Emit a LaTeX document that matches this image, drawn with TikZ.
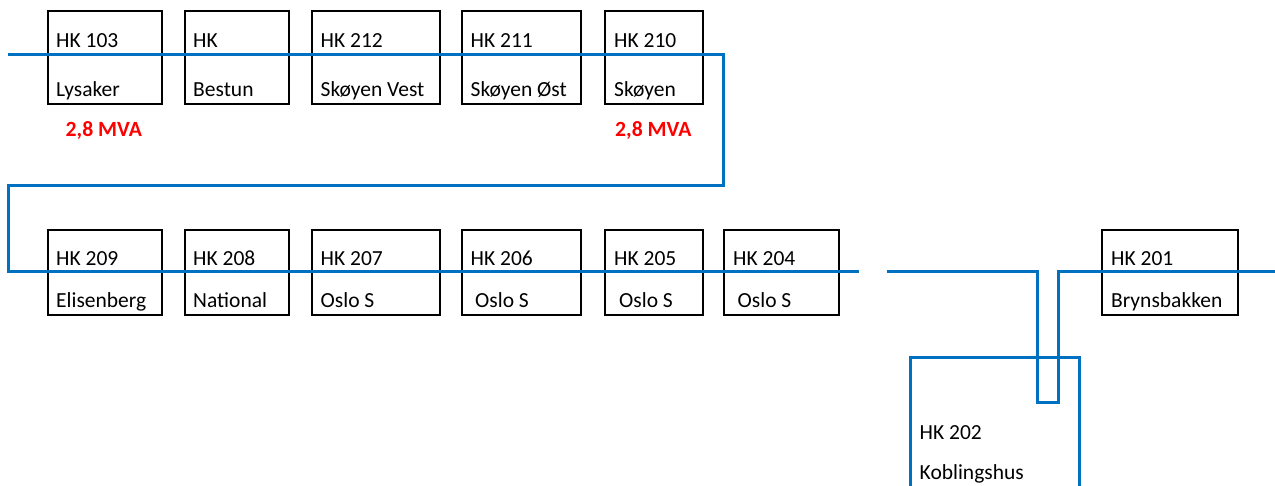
\documentclass[tikz,border=0pt]{standalone}
\usepackage{fontspec}
\setmainfont{Carlito}
\definecolor{busblue}{RGB}{0,112,192}
\definecolor{mvared}{RGB}{255,0,0}
\tikzset{
  hkbox/.style={draw=black, line width=1.6pt, anchor=north west, inner sep=0pt},
  lbl/.style={anchor=base west, inner sep=0pt, font=\fontsize{21.5}{25}\selectfont},
  mva/.style={anchor=base west, inner sep=0pt, text=mvared, font=\fontsize{21.7}{25}\selectfont\bfseries},
  bus/.style={draw=busblue, line width=3pt}
}
\begin{document}
\begin{tikzpicture}[x=1pt,y=-1pt]
\useasboundingbox (0,0) rectangle (1275,486);
% top row boxes
\node[hkbox, minimum width=114pt, minimum height=93pt] (b103) at (47,10) {};
\node[hkbox, minimum width=104pt, minimum height=93pt] (bBe) at (184,10) {};
\node[hkbox, minimum width=128pt, minimum height=93pt] (b212) at (311,10) {};
\node[hkbox, minimum width=119pt, minimum height=93pt] (b211) at (461,10) {};
\node[hkbox, minimum width=98pt, minimum height=93pt] (b210) at (604,10) {};
% bottom row boxes
\node[hkbox, minimum width=114pt, minimum height=85pt] (b209) at (47,229) {};
\node[hkbox, minimum width=104pt, minimum height=85pt] (b208) at (184,229) {};
\node[hkbox, minimum width=128pt, minimum height=85pt] (b207) at (311,229) {};
\node[hkbox, minimum width=119pt, minimum height=85pt] (b206) at (461,229) {};
\node[hkbox, minimum width=98pt, minimum height=85pt] (b205) at (604,229) {};
\node[hkbox, minimum width=115pt, minimum height=85pt] (b204) at (723,229) {};
\node[hkbox, minimum width=136pt, minimum height=85pt] (b201) at (1101,229) {};
% top row labels
\node[lbl] (t103) at (56,48) {HK 103};
\node[lbl] (n103) at (56,96.5) {Lysaker};
\node[lbl] (tBe) at (193,48) {HK};
\node[lbl] (nBe) at (193,96.5) {Bestun};
\node[lbl] (t212) at (320.5,48) {HK 212};
\node[lbl] (n212) at (320.5,96.5) {Skøyen Vest};
\node[lbl] (t211) at (470.5,48) {HK 211};
\node[lbl] (n211) at (470.5,96.5) {Skøyen Øst};
\node[lbl] (t210) at (614,48) {HK 210};
\node[lbl] (n210) at (614,96.5) {Skøyen};
\node[mva] (m1) at (65.5,137) {2,8 MVA};
\node[mva] (m2) at (615,137) {2,8 MVA};
% bottom row labels
\node[lbl] (t209) at (56,266) {HK 209};
\node[lbl] (n209) at (56,308) {Elisenberg};
\node[lbl] (t208) at (193,266) {HK 208};
\node[lbl] (n208) at (193,308) {National};
\node[lbl] (t207) at (320.5,266) {HK 207};
\node[lbl] (n207) at (320.5,308) {Oslo S};
\node[lbl] (t206) at (470.5,266) {HK 206};
\node[lbl] (n206) at (475,308) {Oslo S};
\node[lbl] (t205) at (614,266) {HK 205};
\node[lbl] (n205) at (619,308) {Oslo S};
\node[lbl] (t204) at (733,266) {HK 204};
\node[lbl] (n204) at (737.5,308) {Oslo S};
\node[lbl] (t201) at (1111,266) {HK 201};
\node[lbl] (n201) at (1111,308) {Brynsbakken};
\node[lbl] (t202) at (919.5,439) {HK 202};
\node[lbl] (n202) at (919.5,479) {Koblingshus};
% bus lines
\draw[bus] (8,54.3) -- (723.7,54.3) -- (723.7,186) -- (8,186) -- (8,272) -- (858.5,272);
\draw[bus] (886.7,272) -- (1037.3,272) -- (1037.3,402.7) -- (1058.7,402.7) -- (1058.7,272) -- (1275,272);
\draw[bus] (910,486) -- (910,358) -- (1079.3,358) -- (1079.3,486);
\end{tikzpicture}
\end{document}
